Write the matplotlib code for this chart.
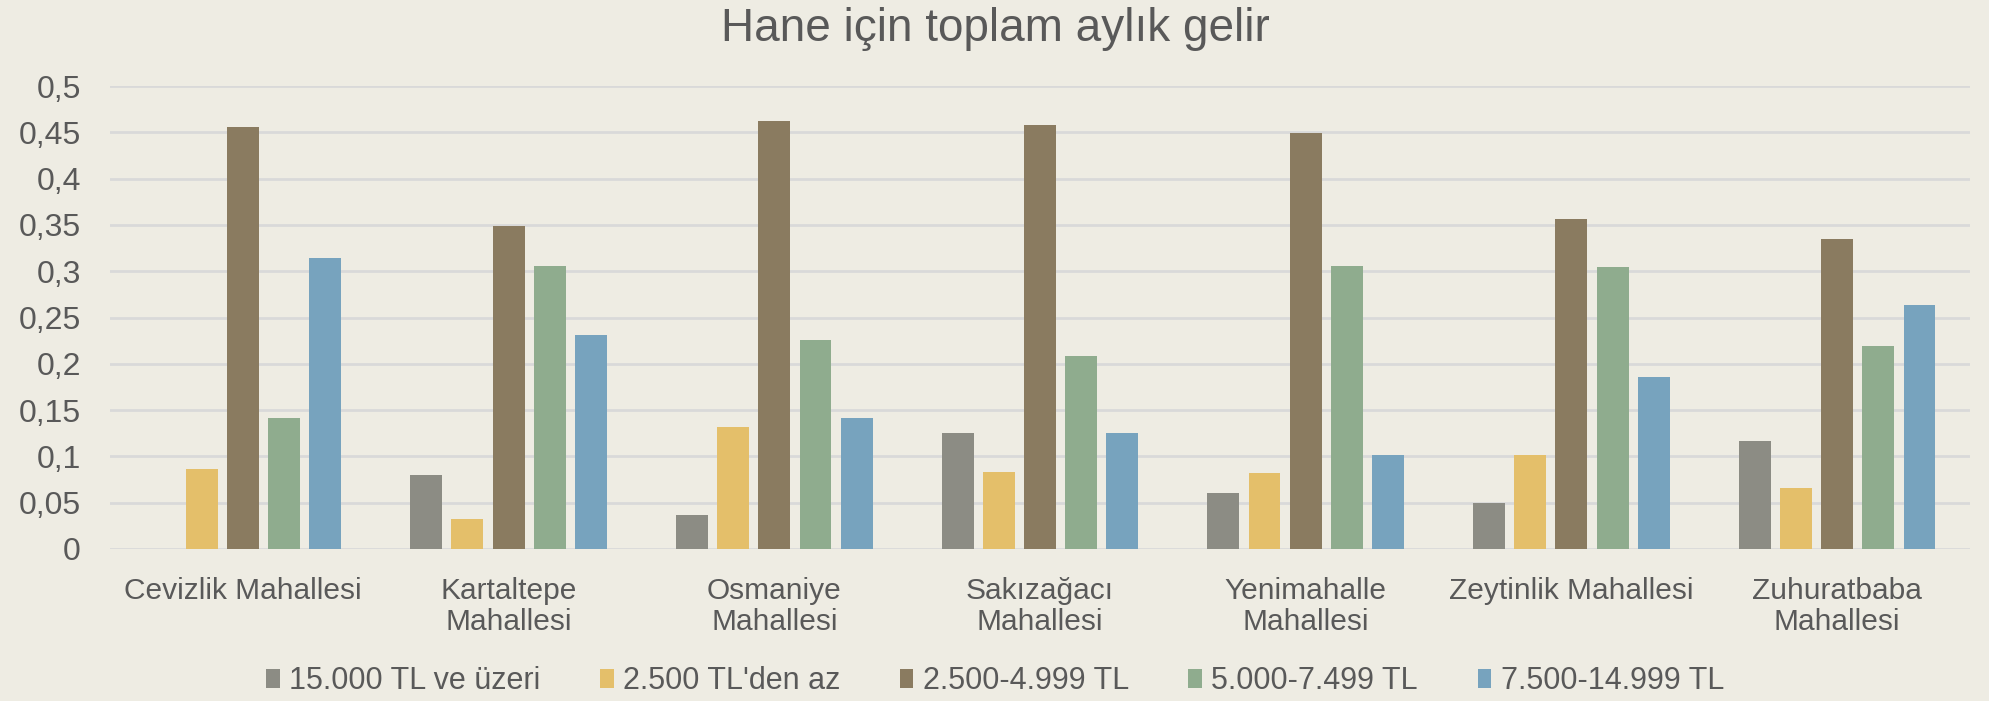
import matplotlib.pyplot as plt
import numpy as np
from matplotlib.ticker import FuncFormatter

plt.rcParams['font.family'] = ['Liberation Sans', 'DejaVu Sans']

mahalleler = ["Cevizlik Mahallesi", "Kartaltepe\nMahallesi", "Osmaniye\nMahallesi",
              "Sakızağacı\nMahallesi", "Yenimahalle\nMahallesi", "Zeytinlik Mahallesi",
              "Zuhuratbaba\nMahallesi"]

gelir_15000_ustu = [0, 0.080, 0.037, 0.125, 0.061, 0.050, 0.117]
gelir_2500_alti = [0.086, 0.032, 0.132, 0.083, 0.082, 0.102, 0.066]
gelir_2500_4999 = [0.456, 0.349, 0.462, 0.458, 0.449, 0.356, 0.335]
gelir_5000_7499 = [0.142, 0.306, 0.226, 0.208, 0.306, 0.305, 0.219]
gelir_7500_14999 = [0.314, 0.231, 0.141, 0.125, 0.102, 0.186, 0.264]

seri_adlari = ["15.000 TL ve üzeri", "2.500 TL'den az", "2.500-4.999 TL",
               "5.000-7.499 TL", "7.500-14.999 TL"]
seriler = [gelir_15000_ustu, gelir_2500_alti, gelir_2500_4999, gelir_5000_7499, gelir_7500_14999]
renkler = ["#8c8c84", "#e4bf6a", "#8a7b60", "#8fac8e", "#77a3be"]

bg = "#eeece3"
yazi = "#595959"

fig = plt.figure(figsize=(19.9, 7.01), dpi=100, facecolor=bg)
ax = fig.add_axes([110 / 1990, 1 - 549 / 701, 1860 / 1990, 463 / 701])
ax.set_facecolor(bg)

x = np.arange(len(mahalleler))
adim = 0.155
gen = 0.12
for i, (seri, ad, renk) in enumerate(zip(seriler, seri_adlari, renkler)):
    ax.bar(x + (i - 2) * adim, seri, width=gen, color=renk, label=ad, zorder=3)

ax.set_xlim(-0.5, len(mahalleler) - 0.5)
ax.set_ylim(0, 0.5)
ax.set_yticks(np.arange(0, 0.501, 0.05))
ax.yaxis.set_major_formatter(FuncFormatter(lambda v, p: ("%g" % round(v, 2)).replace(".", ",")))
ax.grid(axis="y", color="#d9d9d9", linewidth=2, zorder=0)
ax.set_axisbelow(True)
for s in ax.spines.values():
    s.set_visible(False)
ax.tick_params(axis="both", length=0, colors=yazi)
ax.tick_params(axis="y", pad=21, labelsize=23)
ax.tick_params(axis="x", pad=20, labelsize=21.5)
ax.set_xticks(x)
ax.set_xticklabels(mahalleler, linespacing=1.15)

fig.suptitle("Hane için toplam aylık gelir", y=0.99, fontsize=33, color=yazi)

leg = fig.legend(loc="center", bbox_to_anchor=(0.5, 1 - 681 / 701), ncol=5, frameon=False,
                 fontsize=22, handlelength=0.45, handleheight=0.6, handletextpad=0.3,
                 columnspacing=1.95, borderaxespad=0)
for t in leg.get_texts():
    t.set_color(yazi)

fig.savefig("out.png", dpi=100, facecolor=bg)
